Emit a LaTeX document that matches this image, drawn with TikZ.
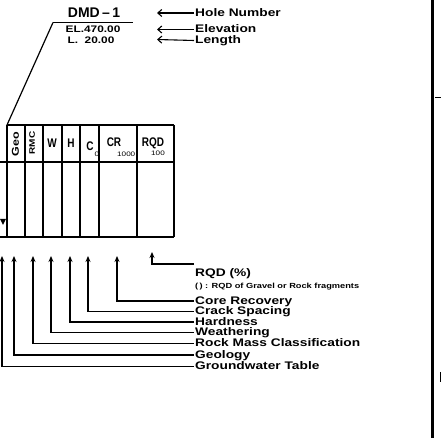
\documentclass[tikz,border=0pt]{standalone}
\usepackage{fontspec}
\setmainfont{Liberation Sans}[FakeStretch=1.25, BoldFont=* Bold]
\newfontfamily\plainfont{Liberation Sans}
\newfontfamily\condfont{Liberation Sans}[FakeStretch=0.8]
\usetikzlibrary{arrows.meta, positioning}

\begin{document}
\begin{tikzpicture}[
    x=1pt, y=-1pt,
    % Define styles
    lbl/.style={
        anchor=west,
        inner sep=1pt,
        font=\bfseries\fontsize{11}{12}\selectfont,
        text height=1.5ex,
        text depth=0.25ex
    },
    note/.style={
        anchor=west,
        inner sep=1pt,
        font=\bfseries\fontsize{7.4}{9}\selectfont
    },
    head/.style={
        inner sep=0pt,
        font=\bfseries\fontsize{9.5}{11}\selectfont
    },
    colhead/.style={
        inner sep=0pt,
        font=\condfont\bfseries\fontsize{12.5}{14}\selectfont
    },
    axisnum/.style={
        inner sep=0pt,
        font=\fontsize{6.5}{7}\selectfont
    },
    gridline/.style={
        draw,
        line width=1.2pt
    },
    colrule/.style={
        draw,
        line width=2pt
    },
    leader/.style={
        draw,
        line width=1.3pt,
        -{Stealth[length=6pt, width=5pt]}
    },
    pointer/.style={
        draw,
        line width=1.1pt,
        -{Straight Barb[length=4pt, width=7pt]}
    }
]

\useasboundingbox (0,0) rectangle (445,438);

% Place nodes
% Title block: hole number, elevation, length
\node[inner sep=0pt, font=\plainfont\bfseries\fontsize{14}{16}\selectfont] (hole) at (94,13) {DMD\,–\,1};
\node[head] (elev) at (93,29.5) {EL.470.00};
\node[head] (len) at (91,40) {L.\ \ 20.00};
\coordinate (hdL) at (53,22.5);
\coordinate (hdR) at (133,22.5);
\coordinate (tblTL) at (7,125);

% Explanations on the right of the title block
\node[lbl] (holeLbl) at (194,13) {Hole Number};
\node[lbl] (elevLbl) at (194,29.5) {Elevation};
\node[lbl] (lenLbl) at (194,40.5) {Length};
\coordinate (pHole) at (157,13);
\coordinate (pElev) at (157,29.5);
\coordinate (pLen) at (157,39.5);

% Column headings
\node[rotate=90, inner sep=0pt, font=\bfseries\fontsize{10}{12}\selectfont] (geoH) at (15.5,144) {Geo};
\node[rotate=90, inner sep=0pt, font=\bfseries\fontsize{8}{10}\selectfont] (rmcH) at (32,143) {RMC};
\node[colhead] (wH) at (52,143) {W};
\node[colhead] (hH) at (71,143) {H};
\node[colhead] (cH) at (90,146) {C};
\node[colhead] (crH) at (114,142) {CR};
\node[colhead] (rqdH) at (153,143) {RQD};
\node[axisnum] (crMin) at (97,154) {0};
\node[axisnum] (crMax) at (124,154) {100};
\node[axisnum] (rqdMin) at (133,154) {0};
\node[axisnum] (rqdMax) at (158,153) {100};

% Explanations below the table
\node[lbl] (rqdL) at (194,273) {RQD (\%)};
\node[note] (noteL) at (194,287) {(\,) : RQD of Gravel or Rock fragments};
\node[lbl] (coreL) at (194,301) {Core Recovery};
\node[lbl] (crackL) at (194,311.5) {Crack Spacing};
\node[lbl] (hardL) at (194,322) {Hardness};
\node[lbl] (weathL) at (194,332.5) {Weathering};
\node[lbl] (rmcL) at (194,343.5) {Rock Mass Classification};
\node[lbl] (geoL) at (194,355) {Geology};
\node[lbl] (gwL) at (194,366.5) {Groundwater Table};

% Arrow tips under the columns
\coordinate (tRqd) at (152,252);
\coordinate (tCore) at (117,256);
\coordinate (tCrack) at (88,256);
\coordinate (tHard) at (70,256);
\coordinate (tWeath) at (51,256);
\coordinate (tRmc) at (33,256);
\coordinate (tGeo) at (14,256);
\coordinate (tGw) at (2,256);

% Draw the table
\path[gridline] (hdL) -- (hdR);
\path[gridline] (hdL) -- (tblTL);
\path[gridline] (tblTL) -- (174,125);
\path[gridline] (0,162) -- (174,162);
\path[gridline] (0,237) -- (174,237);
\path[colrule] (7,125) -- (7,237)
    (25,125) -- (25,237)
    (43,125) -- (43,237)
    (80,162) -- (80,237)
    (99,125) -- (99,237)
    (137,125) -- (137,237);
\path[gridline] (62,125) -- (62,237)
    (80,125) -- (80,162)
    (174,125) -- (174,237);
\fill (0,219) -- (6,219) -- (3,225) -- cycle;

% Draw edges
% Title block
\path[pointer] (holeLbl.west) -- (pHole);
\path[pointer] (elevLbl.west) -- (pElev);
\path[pointer] (lenLbl.west) -- (pLen);

% Columns
\path[leader] ([yshift=9pt]rqdL.west) -| (tRqd);
\path[leader] (coreL.west) -| (tCore);
\path[leader] (crackL.west) -| (tCrack);
\path[leader] (hardL.west) -| (tHard);
\path[leader] (weathL.west) -| (tWeath);
\path[leader] (rmcL.west) -| (tRmc);
\path[leader] (geoL.west) -| (tGeo);
\path[leader] (gwL.west) -| (tGw);

% Edge of the next figure
\draw[line width=3pt] (432,0) -- (432,438);
\draw[line width=0.6pt] (435,97) -- (441,97);
\draw[line width=0.8pt] (440,372) -- (440,382);

\end{tikzpicture}
\end{document}
